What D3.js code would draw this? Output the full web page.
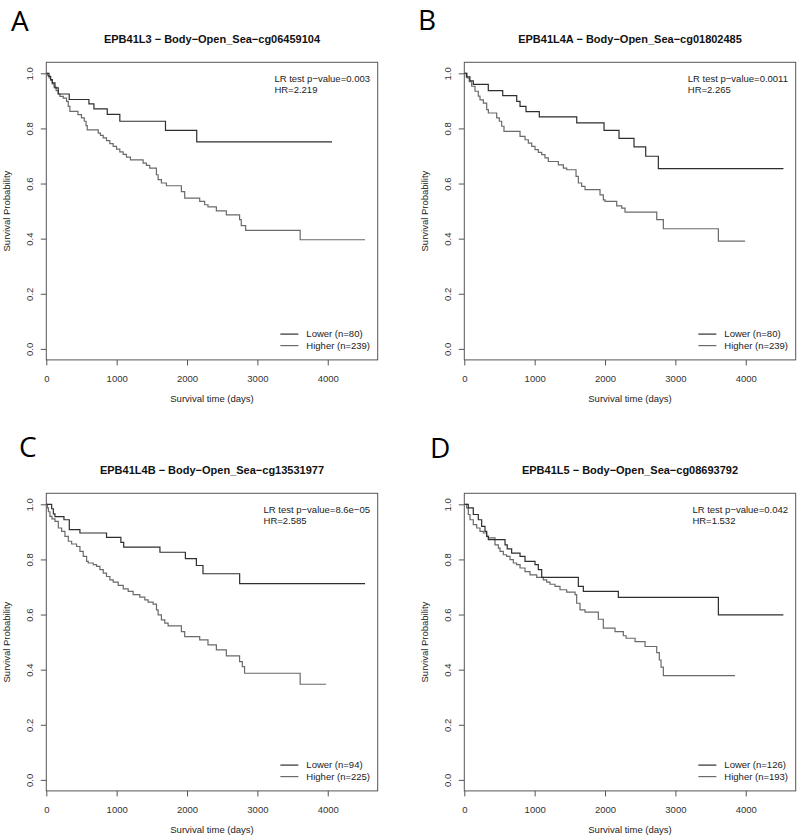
<!DOCTYPE html>
<html>
<head>
<meta charset="utf-8">
<script src="https://cdn.jsdelivr.net/npm/d3@7"></script>
<style>
  body { margin: 0; background: #fff; }
</style>
</head>
<body>
<div id="fig"></div>
<script>
// Panel texts
const panelLetters = ["A", "B", "C", "D"];
const panelTitles = [
	"EPB41L3 − Body−Open_Sea−cg06459104",
	"EPB41L4A − Body−Open_Sea−cg01802485",
	"EPB41L4B − Body−Open_Sea−cg13531977",
	"EPB41L5 − Body−Open_Sea−cg08693792"
];
const pValues = ["0.003", "0.0011", "8.6e−05", "0.042"];
const hazardRatios = ["2.219", "2.265", "2.585", "1.532"];
const lowerN = [80, 80, 94, 126];
const higherN = [239, 239, 225, 193];

const xTicks = [0, 1000, 2000, 3000, 4000];
const yTicks = [0, 0.2, 0.4, 0.6, 0.8, 1.0];

// Kaplan-Meier steps: [day, survival after step]; last pair = last follow-up
const A_lower = [[0,1],[38,0.989],[62,0.977],[85,0.965],[123,0.947],[170,0.925],[326,0.905],[606,0.889],[677,0.871],[866,0.851],[1045,0.826],[1694,0.793],[2138,0.751],[4061,0.751]];
const A_higher = [[0,1],[20,0.992],[40,0.983],[60,0.975],[85,0.962],[110,0.950],[140,0.937],[170,0.925],[194,0.916],[241,0.910],[288,0.898],[312,0.880],[335,0.862],[450,0.850],[500,0.838],[540,0.826],[565,0.810],[582,0.795],[738,0.783],[770,0.775],[809,0.766],[856,0.756],[903,0.745],[950,0.735],[998,0.725],[1045,0.715],[1092,0.706],[1139,0.696],[1196,0.686],[1376,0.674],[1423,0.666],[1470,0.656],[1565,0.632],[1589,0.614],[1636,0.602],[1707,0.592],[1920,0.571],[1967,0.547],[2180,0.535],[2251,0.523],[2298,0.515],[2417,0.501],[2559,0.486],[2747,0.469],[2771,0.447],[2833,0.430],[3608,0.396],[4530,0.396]];

const B_lower = [[0,1],[30,0.987],[80,0.973],[128,0.960],[341,0.937],[546,0.919],[745,0.898],[792,0.880],[877,0.861],[1066,0.842],[1598,0.820],[1986,0.793],[2199,0.764],[2412,0.733],[2578,0.699],[2758,0.654],[4536,0.654]];
const B_higher = [[0,1],[40,0.983],[70,0.970],[105,0.953],[152,0.935],[199,0.917],[223,0.904],[271,0.892],[318,0.868],[342,0.856],[460,0.838],[498,0.826],[531,0.808],[564,0.789],[792,0.771],[863,0.759],[910,0.747],[958,0.735],[1005,0.723],[1052,0.713],[1100,0.705],[1147,0.693],[1194,0.680],[1337,0.668],[1408,0.656],[1455,0.650],[1588,0.626],[1621,0.602],[1668,0.590],[1716,0.578],[1929,0.559],[1976,0.541],[2000,0.535],[2166,0.519],[2237,0.511],[2284,0.496],[2735,0.469],[2829,0.436],[3611,0.391],[3991,0.391]];

const C_lower = [[0,1],[76,0.984],[100,0.965],[123,0.955],[251,0.944],[327,0.908],[478,0.896],[856,0.880],[1060,0.862],[1100,0.845],[1615,0.826],[1977,0.803],[2133,0.778],[2227,0.748],[2748,0.712],[4530,0.712]];
const C_higher = [[0,1],[15,0.987],[30,0.973],[52,0.956],[80,0.947],[123,0.938],[171,0.914],[218,0.902],[265,0.884],[313,0.866],[360,0.856],[431,0.847],[478,0.829],[525,0.811],[573,0.793],[596,0.787],[667,0.781],[714,0.775],[762,0.763],[809,0.750],[856,0.738],[904,0.726],[951,0.718],[1022,0.706],[1093,0.693],[1164,0.684],[1234,0.672],[1329,0.663],[1400,0.653],[1447,0.645],[1518,0.638],[1566,0.617],[1589,0.599],[1636,0.581],[1684,0.569],[1731,0.559],[1920,0.538],[1967,0.520],[2180,0.508],[2298,0.490],[2417,0.472],[2559,0.450],[2747,0.429],[2786,0.411],[2818,0.387],[3608,0.347],[3977,0.347]];

const D_lower = [[0,1],[57,0.987],[128,0.963],[199,0.944],[247,0.920],[294,0.902],[318,0.884],[342,0.872],[579,0.853],[610,0.838],[673,0.823],[792,0.811],[863,0.793],[1005,0.781],[1052,0.763],[1100,0.735],[1621,0.702],[1692,0.684],[2189,0.662],[3611,0.599],[4535,0.599]];
const D_higher = [[0,1],[34,0.987],[57,0.963],[81,0.944],[128,0.926],[176,0.914],[223,0.902],[271,0.896],[318,0.884],[342,0.878],[436,0.853],[484,0.841],[508,0.829],[555,0.817],[602,0.811],[650,0.799],[697,0.787],[744,0.781],[792,0.769],[863,0.756],[934,0.744],[1029,0.735],[1123,0.726],[1171,0.718],[1218,0.710],[1289,0.702],[1360,0.690],[1455,0.681],[1574,0.672],[1597,0.641],[1645,0.617],[1716,0.609],[1905,0.583],[1976,0.551],[2142,0.538],[2260,0.523],[2299,0.514],[2427,0.502],[2569,0.484],[2735,0.462],[2772,0.435],[2796,0.409],[2829,0.378],[3848,0.378]];

const lowerSeries = [A_lower, B_lower, C_lower, D_lower];
const higherSeries = [A_higher, B_higher, C_higher, D_higher];

// Layout
const W = 800, H = 840;
const plotW = 331.4, plotH = 297.6;
const boxes = [[46.3, 62.3], [464.3, 62.3], [46.3, 493.3], [464.3, 493.3]];
const letterPos = [[11, 30.5], [418, 30], [19, 457], [430, 458]];

const FONT = "'Liberation Sans', Arial, sans-serif";
const LOWER_COL = "#2e2e2e";
const HIGHER_COL = "#6a6a6a";
const AXIS_COL = "#555";

const svg = d3.select("#fig").append("svg")
	.attr("width", W)
	.attr("height", H)
	.style("background", "#fff");

const line = d3.line().curve(d3.curveStepAfter);

panelLetters.forEach((letter, i) => {
	const [bx, by] = boxes[i];
	const g = svg.append("g").attr("transform", `translate(${bx},${by})`);

	const x = d3.scaleLinear().domain([0, 4710]).range([0, plotW]);
	const y = d3.scaleLinear().domain([-0.04, 1.04]).range([plotH, 0]);

	// panel letter
	svg.append("text")
		.attr("x", letterPos[i][0])
		.attr("y", letterPos[i][1])
		.style("font-family", "'Open Sans', sans-serif")
		.style("font-size", "28px")
		.style("fill", "#000")
		.text(letter);

	// title
	g.append("text")
		.attr("x", plotW / 2)
		.attr("y", -19.3)
		.attr("text-anchor", "middle")
		.style("font-family", FONT)
		.style("font-size", "11px")
		.style("font-weight", 700)
		.style("fill", "#111")
		.text(panelTitles[i]);

	// x axis
	const xAxisG = g.append("g")
		.attr("transform", `translate(0,${plotH})`)
		.call(d3.axisBottom(x).tickValues(xTicks).tickSize(5.5).tickPadding(10).tickFormat(d3.format("d")));
	xAxisG.select(".domain").remove();
	xAxisG.selectAll("line").attr("stroke", AXIS_COL);
	xAxisG.selectAll("text")
		.style("font-family", FONT)
		.style("font-size", "9.5px")
		.style("fill", "#333");

	// y axis, labels rotated like R
	const yAxisG = g.append("g")
		.call(d3.axisLeft(y).tickValues(yTicks).tickSize(5.5).tickFormat(d3.format(".1f")));
	yAxisG.select(".domain").remove();
	yAxisG.selectAll("line").attr("stroke", AXIS_COL);
	yAxisG.selectAll("text")
		.attr("transform", "rotate(-90)")
		.attr("x", 0)
		.attr("y", -13)
		.attr("dy", 0)
		.attr("text-anchor", "middle")
		.style("font-family", FONT)
		.style("font-size", "9.5px")
		.style("fill", "#333");

	// axis titles
	g.append("text")
		.attr("x", plotW / 2)
		.attr("y", plotH + 42.5)
		.attr("text-anchor", "middle")
		.style("font-family", FONT)
		.style("font-size", "9.5px")
		.style("fill", "#222")
		.text("Survival time (days)");
	g.append("text")
		.attr("transform", `translate(-36.3,${plotH / 2}) rotate(-90)`)
		.attr("text-anchor", "middle")
		.style("font-family", FONT)
		.style("font-size", "9.5px")
		.style("fill", "#222")
		.text("Survival Probability");

	// curves
	const pts = s => s.map(d => [x(d[0]), y(d[1])]);
	g.append("path")
		.attr("d", line(pts(higherSeries[i])))
		.attr("fill", "none")
		.attr("stroke", HIGHER_COL)
		.attr("stroke-width", 1.2);
	g.append("path")
		.attr("d", line(pts(lowerSeries[i])))
		.attr("fill", "none")
		.attr("stroke", LOWER_COL)
		.attr("stroke-width", 1.2);

	// frame
	g.append("rect")
		.attr("width", plotW)
		.attr("height", plotH)
		.attr("fill", "none")
		.attr("stroke", AXIS_COL)
		.attr("stroke-width", 1);

	// stats text, right-aligned block with left-aligned lines
	const stats = g.append("g");
	const s1 = stats.append("text").attr("y", 19.4).text(`LR test p−value=${pValues[i]}`);
	const s2 = stats.append("text").attr("y", 30.6).text(`HR=${hazardRatios[i]}`);
	stats.selectAll("text")
		.style("font-family", FONT)
		.style("font-size", "9.5px")
		.style("fill", "#222");
	const sw = Math.max(s1.node().getComputedTextLength(), s2.node().getComputedTextLength());
	stats.selectAll("text").attr("x", plotW - 7.7 - sw);

	// legend
	const leg = g.append("g");
	const rows = [
		{ label: `Lower (n=${lowerN[i]})`, col: LOWER_COL, yy: plotH - 22.5 },
		{ label: `Higher (n=${higherN[i]})`, col: HIGHER_COL, yy: plotH - 11 }
	];
	const texts = rows.map(r => leg.append("text")
		.attr("y", r.yy)
		.style("font-family", FONT)
		.style("font-size", "9.5px")
		.style("fill", "#222")
		.text(r.label));
	const lw = d3.max(texts, t => t.node().getComputedTextLength());
	const tx = plotW - 7.7 - lw;
	texts.forEach(t => t.attr("x", tx));
	rows.forEach(r => {
		leg.append("line")
			.attr("x1", tx - 26).attr("x2", tx - 8)
			.attr("y1", r.yy - 3.3).attr("y2", r.yy - 3.3)
			.attr("stroke", r.col)
			.attr("stroke-width", 1.2);
	});
});
</script>
</body>
</html>
